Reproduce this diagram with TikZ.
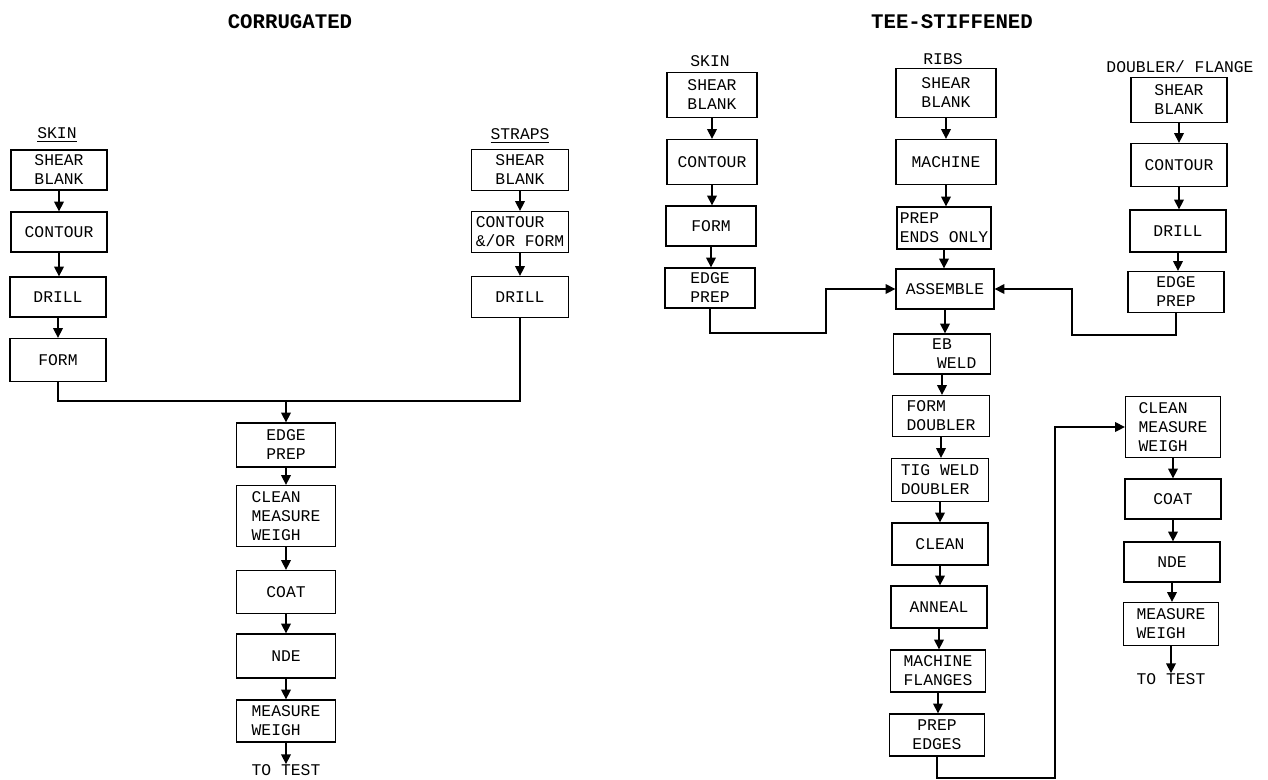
\documentclass[tikz,border=0pt]{standalone}
\usepackage{fontspec}
\setmainfont{Liberation Mono}
\usetikzlibrary{arrows.meta}
\tikzset{
  box/.style={draw, line width=0.75pt, inner sep=1pt, minimum width=1.92cm, align=center,
    font=\fontsize{9.3}{10.8}\selectfont},
  boxl/.style={box, align=left},
  lbl/.style={inner sep=0pt, font=\fontsize{9.3}{10.6}\selectfont},
  ttl/.style={inner sep=0pt, font=\fontsize{11.8}{13}\selectfont\bfseries},
  conn/.style={line width=0.75pt},
  arr/.style={conn, -{Triangle[length=5.5pt,width=5.5pt]}}
}
\begin{document}
\begin{tikzpicture}[x=0.02cm,y=-0.02cm]
\useasboundingbox (0,0) rectangle (1268,779);
% titles
\node[ttl] (t1) at (290,22) {CORRUGATED};
\node[ttl] (t2) at (952,22) {TEE-STIFFENED};
% ---------- corrugated: skin
\node[lbl] (lsk) at (57,135) {\underline{SKIN}};
\node[box, minimum width=1.92cm, minimum height=0.80cm] (csb) at (59,170) {SHEAR\\BLANK};
\node[box, minimum width=1.92cm, minimum height=0.80cm] (cco) at (59,232) {CONTOUR};
\node[box, minimum width=1.92cm, minimum height=0.80cm] (cdr) at (58,297) {DRILL};
\node[box, minimum width=1.92cm, minimum height=0.86cm] (cfo) at (58,360) {FORM};
\draw[arr] (csb.south) -- (csb.south |- cco.north);
\draw[arr] (cco.south) -- (cco.south |- cdr.north);
\draw[arr] (cdr.south) -- (cdr.south |- cfo.north);
% ---------- corrugated: straps
\node[lbl] (lst) at (520,136) {\underline{STRAPS}};
\node[box, minimum width=1.94cm, minimum height=0.82cm] (ssb) at (520,170) {SHEAR\\BLANK};
\node[boxl, minimum width=1.94cm, minimum height=0.82cm] (sco) at (520,232) {CONTOUR\\\&/OR FORM};
\node[box, minimum width=1.94cm, minimum height=0.82cm] (sdr) at (520,297) {DRILL};
\draw[arr] (ssb.south) -- (ssb.south |- sco.north);
\draw[arr] (sco.south) -- (sco.south |- sdr.north);
% ---------- corrugated: common
\node[box, minimum width=1.98cm, minimum height=0.88cm] (cep) at (286,445) {EDGE\\PREP};
\node[boxl, minimum width=1.98cm, minimum height=1.22cm] (ccm) at (286,516) {CLEAN\\MEASURE\\WEIGH};
\node[box, minimum width=1.98cm, minimum height=0.86cm] (cct) at (286,592) {COAT};
\node[box, minimum width=1.98cm, minimum height=0.88cm] (cnd) at (286,656) {NDE};
\node[boxl, minimum width=1.98cm, minimum height=0.84cm] (cmw) at (286,721) {MEASURE\\WEIGH};
\node[lbl] (ctt) at (286,770) {TO TEST};
\coordinate (cj) at (286,401);
\draw[conn] (cfo.south) |- (cj) -| (sdr.south);
\draw[arr] (cj) -- (cep.north);
\draw[arr] (cep.south) -- (cep.south |- ccm.north);
\draw[arr] (ccm.south) -- (ccm.south |- cct.north);
\draw[arr] (cct.south) -- (cct.south |- cnd.north);
\draw[arr] (cnd.south) -- (cnd.south |- cmw.north);
\draw[arr] (cmw.south) -- (cmw.south |- ctt.north);
% ---------- tee: skin
\node[lbl] (tsk) at (710,61) {SKIN};
\node[box, minimum width=1.80cm, minimum height=0.90cm] (ksb) at (712,95) {SHEAR\\BLANK};
\node[box, minimum width=1.80cm, minimum height=0.90cm] (kco) at (712,162) {CONTOUR};
\node[box, minimum width=1.80cm, minimum height=0.80cm] (kfo) at (711,226) {FORM};
\node[box, minimum width=1.80cm, minimum height=0.80cm] (kep) at (710,288) {EDGE\\PREP};
\draw[arr] (ksb.south) -- (ksb.south |- kco.north);
\draw[arr] (kco.south) -- (kco.south |- kfo.north);
\draw[arr] (kfo.south) -- (kfo.south |- kep.north);
% ---------- tee: ribs
\node[lbl] (trb) at (943,59) {RIBS};
\node[box, minimum width=2.00cm, minimum height=0.98cm] (rsb) at (946,93) {SHEAR\\BLANK};
\node[box, minimum width=2.00cm, minimum height=0.90cm] (rma) at (946,162) {MACHINE};
\node[boxl, minimum width=1.88cm, minimum height=0.84cm] (rpe) at (944,228) {PREP\\ENDS ONLY};
\node[box, minimum width=1.96cm, minimum height=0.80cm] (asm) at (945,289) {ASSEMBLE};
\node[box, minimum width=1.94cm, minimum height=0.80cm] (ebw) at (942,354) {EB\\\ \ \ WELD};
\node[boxl, minimum width=1.94cm, minimum height=0.82cm] (fdb) at (941,416) {FORM\\DOUBLER};
\node[boxl, minimum width=1.94cm, minimum height=0.86cm] (tig) at (940,480) {TIG WELD\\DOUBLER};
\node[box, minimum width=1.92cm, minimum height=0.84cm] (cln) at (940,544) {CLEAN};
\node[box, minimum width=1.92cm, minimum height=0.84cm] (ann) at (939,607) {ANNEAL};
\node[boxl, minimum width=1.90cm, minimum height=0.84cm] (mfl) at (938,671) {MACHINE\\FLANGES};
\node[box, minimum width=1.90cm, minimum height=0.84cm] (ped) at (937,735) {PREP\\EDGES};
\draw[arr] (rsb.south) -- (rsb.south |- rma.north);
\draw[arr] (rma.south) -- (rma.south |- rpe.north);
\draw[arr] (rpe.south) -- (rpe.south |- asm.north);
\draw[arr] (asm.south) -- (asm.south |- ebw.north);
\draw[arr] (ebw.south) -- (ebw.south |- fdb.north);
\draw[arr] (fdb.south) -- (fdb.south |- tig.north);
\draw[arr] (tig.south) -- (tig.south |- cln.north);
\draw[arr] (cln.south) -- (cln.south |- ann.north);
\draw[arr] (ann.south) -- (ann.south |- mfl.north);
\draw[arr] (mfl.south) -- (mfl.south |- ped.north);
% ---------- tee: doubler / flange
\node[lbl] (tdf) at (1180,67) {DOUBLER/ FLANGE};
\node[box, minimum width=1.92cm, minimum height=0.90cm] (dsb) at (1179,100) {SHEAR\\BLANK};
\node[box, minimum width=1.92cm, minimum height=0.86cm] (dco) at (1179,165) {CONTOUR};
\node[box, minimum width=1.92cm, minimum height=0.84cm] (ddr) at (1178,231) {DRILL};
\node[box, minimum width=1.92cm, minimum height=0.82cm] (dep) at (1176,292) {EDGE\\PREP};
\draw[arr] (dsb.south) -- (dsb.south |- dco.north);
\draw[arr] (dco.south) -- (dco.south |- ddr.north);
\draw[arr] (ddr.south) -- (ddr.south |- dep.north);
% ---------- tee: final
\node[boxl, minimum width=1.90cm, minimum height=1.22cm] (tcm) at (1173,427) {CLEAN\\MEASURE\\WEIGH};
\node[box, minimum width=1.92cm, minimum height=0.80cm] (tct) at (1173,499) {COAT};
\node[box, minimum width=1.92cm, minimum height=0.80cm] (tnd) at (1172,562) {NDE};
\node[boxl, minimum width=1.90cm, minimum height=0.86cm] (tmw) at (1171,624) {MEASURE\\WEIGH};
\node[lbl] (ttt) at (1171,679) {TO TEST};
\draw[arr] (tcm.south) -- (tcm.south |- tct.north);
\draw[arr] (tct.south) -- (tct.south |- tnd.north);
\draw[arr] (tnd.south) -- (tnd.south |- tmw.north);
\draw[arr] (tmw.south) -- (tmw.south |- ttt.north);
% ---------- tee connectors
\coordinate (ka) at (826,333);
\draw[arr] (kep.south) |- (ka) |- (asm.west);
\coordinate (da) at (1072,335);
\draw[arr] (dep.south) |- (da) |- (asm.east);
\coordinate (pa) at (1055,778);
\draw[arr] (ped.south) |- (pa) |- (tcm.west);
\end{tikzpicture}
\end{document}
